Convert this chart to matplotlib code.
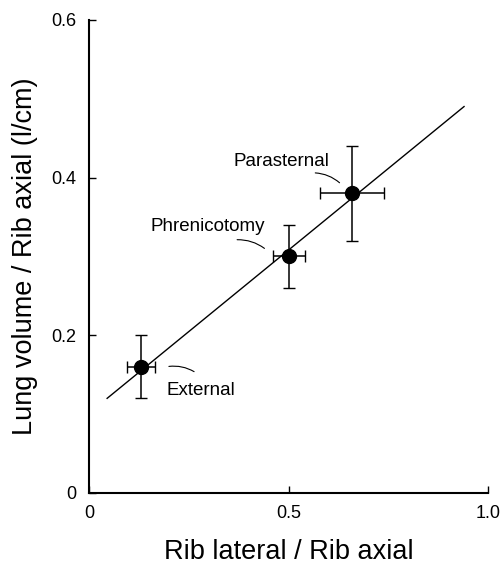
import matplotlib
matplotlib.use("Agg")
import matplotlib.pyplot as plt

# data
names = ["External", "Phrenicotomy", "Parasternal"]
rib_ratio = [0.13, 0.50, 0.66]
rib_err = [0.035, 0.04, 0.08]
lung_vol = [0.16, 0.30, 0.38]
lung_err = [0.04, 0.04, 0.06]

# regression line ends
fit_x = [0.045, 0.94]
fit_y = [0.12, 0.49]

# label anchors (data coords), alignment, and leader lines
label_xy = [(0.193, 0.13), (0.44, 0.338), (0.603, 0.42)]
label_ha = ["left", "right", "right"]
leader_from = [(0.193, 0.16), (0.364, 0.321), (0.56, 0.406)]
leader_to = [(0.269, 0.152), (0.445, 0.308), (0.633, 0.391)]

plt.rcParams['font.family'] = ['Liberation Sans', 'DejaVu Sans']

fig = plt.figure(figsize=(5.01, 5.66), dpi=100)
ax = fig.add_axes([0.178, 0.129, 0.796, 0.836])

ax.plot(fit_x, fit_y, color="black", lw=1.0)
ax.errorbar(rib_ratio, lung_vol, xerr=rib_err, yerr=lung_err, fmt="o",
            color="black", ms=10, ecolor="black", elinewidth=1.1,
            capsize=4, capthick=1.0)

for i in range(len(names)):
    ax.annotate("", xy=leader_to[i], xytext=leader_from[i],
                arrowprops=dict(arrowstyle="-", color="black", lw=0.8,
                                connectionstyle="arc3,rad=-0.2"))
    ax.text(label_xy[i][0], label_xy[i][1], names[i], fontsize=13.5,
            ha=label_ha[i], va="center")

ax.set_xlim(0, 1.0)
ax.set_ylim(0, 0.6)
ax.set_xticks([0, 0.5, 1.0])
ax.set_xticklabels(["0", "0.5", "1.0"])
ax.set_yticks([0, 0.2, 0.4, 0.6])
ax.set_yticklabels(["0", "0.2", "0.4", "0.6"])
ax.tick_params(direction="in", length=5, width=1.0, labelsize=13, pad=9)

ax.spines["top"].set_visible(False)
ax.spines["right"].set_visible(False)
ax.spines["left"].set_linewidth(1.5)
ax.spines["bottom"].set_linewidth(1.5)

ax.set_xlabel("Rib lateral / Rib axial", fontsize=19.5, labelpad=12)
ax.set_ylabel("Lung volume / Rib axial (l/cm)", fontsize=19.5, labelpad=10)

fig.savefig("out.png", dpi=100)
